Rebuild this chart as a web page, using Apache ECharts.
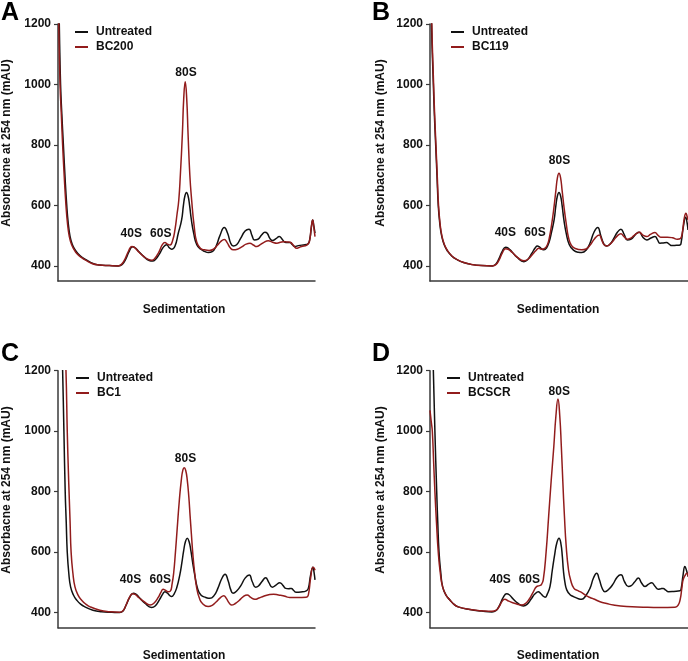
<!DOCTYPE html>
<html><head><meta charset="utf-8">
<script src="https://cdn.jsdelivr.net/npm/echarts/dist/echarts.min.js"></script>
<style>html,body{margin:0;padding:0;background:#fff;overflow:hidden}.p{position:absolute;width:344px;height:330px}</style>
</head><body>
<div id="A" class="p" style="left:0;top:0"></div>
<div id="B" class="p" style="left:344px;top:0"></div>
<div id="C" class="p" style="left:0;top:330px;height:331px"></div>
<div id="D" class="p" style="left:344px;top:330px;height:331px"></div>
<script>
const yTicks = [400, 600, 800, 1000, 1200];
const peakNames = ['40S', '60S', '80S'];
const yTitle = 'Absorbacne at 254 nm (mAU)';
const xTitle = 'Sedimentation';

// x = position along sedimentation (0..1000), y = absorbance (mAU)
const untreatedA = [[0,1450],[5,1200],[10,1000],[15,900],[21,800],[27,700],[34,600],[40,540],[47,497],[55,472],[65,455],[78,440],[95,427],[112,419],[136,408],[160,403],[200,401],[235,400],[250,405],[265,425],[278,450],[290,463],[300,460],[315,447],[335,430],[355,418],[368,416],[380,422],[395,440],[410,462],[423,470],[433,460],[442,455],[455,465],[468,508],[481,552],[488,600],[494,632],[500,643],[506,632],[512,600],[519,552],[528,508],[540,470],[556,455],[570,448],[585,444],[600,447],[615,465],[630,500],[647,527],[660,508],[672,475],[682,466],[695,470],[710,490],[728,515],[743,521],[755,500],[764,486],[778,488],[792,502],[805,511],[814,508],[825,490],[835,484],[848,490],[861,497],[873,487],[883,478],[893,477],[903,477],[912,470],[922,464],[935,467],[961,470],[972,472],[980,490],[987,535],[991,552],[995,535],[1000,508]];
const bc200 = [[0,1450],[3,1200],[8,1000],[13,900],[18,800],[24,700],[31,600],[37,540],[44,497],[52,472],[62,455],[74,440],[92,427],[108,419],[132,408],[160,403],[200,401],[232,400],[247,405],[262,425],[275,450],[287,464],[297,461],[312,448],[332,432],[352,421],[365,419],[377,425],[392,445],[406,470],[416,477],[426,472],[436,469],[446,484],[455,519],[463,570],[470,618],[476,700],[484,838],[489,950],[495,1009],[501,950],[506,838],[513,700],[520,618],[530,530],[540,478],[555,457],[570,453],[588,451],[605,455],[620,468],[635,482],[647,487],[658,477],[670,460],[682,453],[698,455],[715,463],[732,472],[747,475],[760,469],[773,464],[787,470],[800,477],[818,483],[835,478],[852,475],[865,478],[878,480],[890,479],[903,478],[916,468],[929,458],[938,461],[948,464],[968,469],[978,480],[985,525],[991,552],[995,530],[1000,497]];

const untreatedB = [[0,1600],[6,1200],[13,1000],[17,900],[22,800],[27,700],[32,600],[38,540],[45,500],[55,470],[67,450],[85,432],[106,420],[130,411],[158,405],[200,401],[242,400],[255,405],[268,425],[281,450],[293,462],[303,459],[318,446],[338,428],[364,414],[378,420],[395,442],[408,460],[416,466],[425,462],[435,455],[442,453],[452,460],[462,480],[470,508],[481,552],[488,600],[494,632],[500,643],[506,632],[512,600],[519,552],[528,508],[540,470],[556,452],[575,445],[588,444],[605,452],[620,475],[636,512],[650,527],[662,500],[674,472],[685,466],[698,472],[712,490],[727,512],[740,521],[752,505],[765,486],[778,488],[790,497],[800,507],[811,511],[825,495],[840,486],[856,492],[872,497],[882,486],[891,475],[904,476],[917,477],[927,472],[937,467],[955,468],[969,469],[974,480],[982,530],[991,561],[996,545],[1000,519]];
const bc119 = [[0,1600],[7,1200],[14,1000],[18,900],[23,800],[28,700],[33,600],[39,540],[46,500],[56,470],[68,450],[86,432],[107,420],[131,411],[159,405],[200,401],[242,400],[255,404],[268,420],[281,444],[293,457],[303,455],[318,445],[338,429],[364,417],[380,422],[397,438],[410,450],[422,458],[434,455],[445,458],[455,470],[463,495],[472,540],[480,590],[488,650],[494,692],[500,706],[506,692],[512,650],[520,590],[528,540],[537,493],[548,468],[562,458],[588,453],[605,456],[620,468],[638,490],[656,502],[666,485],[675,470],[685,466],[698,472],[712,485],[727,500],[740,506],[752,497],[765,488],[778,492],[790,500],[800,507],[811,511],[825,502],[840,497],[856,505],[872,510],[884,501],[894,495],[907,495],[920,495],[940,493],[959,488],[970,490],[978,510],[985,555],[992,574],[996,565],[1000,552]];

const untreatedC = [[0,1800],[18,1200],[23,1000],[28,800],[32,700],[36,600],[42,530],[49,485],[60,458],[73,441],[88,428],[105,419],[136,408],[170,403],[210,401],[240,400],[253,405],[265,425],[280,452],[293,464],[303,461],[318,448],[338,431],[364,417],[378,422],[395,443],[408,462],[416,469],[425,465],[435,456],[442,453],[452,462],[462,482],[474,525],[482,565],[489,605],[496,635],[503,646],[510,635],[517,605],[524,565],[532,525],[543,480],[556,458],[575,450],[591,447],[607,456],[622,480],[637,512],[650,527],[662,505],[672,476],[681,464],[696,472],[712,490],[728,514],[744,524],[756,502],[769,484],[780,488],[793,502],[808,515],[820,500],[834,484],[848,491],[863,499],[875,490],[886,480],[897,479],[908,480],[917,473],[927,467],[945,468],[966,472],[974,480],[983,525],[992,550],[996,535],[1000,508]];
const bc1 = [[0,2000],[31,1200],[36,1000],[41,850],[43,800],[47,700],[51,600],[58,530],[66,485],[78,458],[92,441],[108,428],[125,419],[163,408],[200,403],[240,401],[253,406],[265,425],[278,450],[290,462],[300,460],[315,449],[335,436],[358,425],[372,430],[390,450],[401,468],[409,477],[418,474],[428,469],[437,471],[444,495],[450,530],[457,600],[464,680],[472,770],[480,840],[486,872],[491,879],[497,870],[503,838],[509,783],[514,720],[519,660],[525,590],[532,530],[540,480],[550,448],[562,430],[584,420],[600,424],[615,435],[630,448],[645,456],[655,447],[665,433],[675,425],[690,430],[705,440],[720,452],[736,458],[750,450],[766,444],[782,448],[800,454],[820,459],[839,461],[858,458],[876,456],[890,452],[902,450],[930,450],[966,451],[974,458],[983,515],[992,550],[996,548],[1000,540]];

const untreatedD = [[0,1600],[13,1200],[19,1000],[26,800],[30,700],[35,600],[42,530],[49,485],[62,458],[78,441],[92,428],[109,419],[155,410],[200,405],[240,402],[255,406],[270,425],[285,452],[297,462],[307,459],[320,447],[340,431],[362,422],[376,427],[392,445],[407,462],[420,469],[428,464],[438,455],[446,451],[455,462],[465,486],[474,540],[484,596],[492,632],[500,646],[507,630],[513,585],[517,540],[523,500],[530,475],[542,460],[556,453],[575,446],[588,444],[603,455],[620,480],[634,515],[646,530],[656,510],[668,479],[678,469],[693,477],[710,495],[726,518],[740,525],[754,502],[769,486],[780,489],[792,500],[808,514],[820,498],[833,486],[846,493],[859,499],[872,487],[885,477],[895,479],[904,480],[914,474],[924,469],[945,470],[969,472],[974,482],[981,525],[988,552],[994,540],[1000,519]];
const bcscr = [[0,1069],[5,1030],[9,1000],[14,900],[19,800],[25,700],[32,600],[40,530],[49,485],[62,458],[78,441],[92,428],[109,419],[155,410],[200,406],[240,404],[255,407],[268,420],[280,438],[290,444],[305,438],[330,430],[355,425],[370,430],[385,445],[400,468],[413,486],[424,489],[432,493],[439,508],[450,600],[460,720],[470,840],[480,950],[488,1050],[496,1106],[503,1050],[509,950],[515,830],[521,720],[528,618],[537,540],[545,508],[558,480],[575,472],[590,465],[607,455],[620,450],[635,445],[659,436],[685,430],[711,425],[762,420],[826,418],[891,417],[950,418],[962,425],[970,445],[976,480],[981,508],[990,525],[995,530],[1000,520]];

// annotation anchor points (data coordinates) for 40S / 60S / 80S
const labelsA = [[285,506],[400,506],[498,1039]];
const labelsB = [[292,509],[407,509],[502,748]];
const labelsC = [[282,508],[398,508],[496,910]];
const labelsD = [[272,508],[385,508],[501,1130]];

const FONT = '"Liberation Sans", Arial, sans-serif';
const AX = '#3a3a3a';
const RED = '#921c1c';

function panel(id, o) {
  const chart = echarts.init(document.getElementById(id));
  chart.setOption({
    animation: false,
    textStyle: { fontFamily: FONT },
    grid: { left: o.gl, top: o.gt, width: o.gw, height: 257 },
    xAxis: { type: 'value', min: 0, max: 1000,
      axisLine: { show: true, lineStyle: { color: AX, width: 1.5 } },
      axisTick: { show: false }, axisLabel: { show: false }, splitLine: { show: false } },
    yAxis: { type: 'value', min: 350, max: 1200,
      axisLine: { show: true, lineStyle: { color: AX, width: 1.5 } },
      axisTick: { show: true, length: 4, customValues: yTicks, lineStyle: { color: AX, width: 1.2 } },
      axisLabel: { customValues: yTicks, formatter: v => String(v), fontWeight: 'bold', fontSize: 12, color: '#111', margin: 7, fontFamily: FONT },
      splitLine: { show: false } },
    legend: { orient: 'vertical', left: o.ll, top: o.lt, padding: 0, itemGap: 1,
      icon: 'rect', itemWidth: 13, itemHeight: 2,
      data: o.names,
      textStyle: { fontWeight: 'bold', fontSize: 12, color: '#111', lineHeight: 14, padding: [0, 0, 0, 3], fontFamily: FONT } },
    graphic: [
      { type: 'text', x: o.letterX, y: o.letterY, style: { text: o.letter, font: 'bold 25px ' + FONT, fill: '#000', textVerticalAlign: 'middle' } },
      { type: 'text', x: o.yx, y: o.yy, rotation: Math.PI / 2, style: { text: yTitle, font: 'bold 12px ' + FONT, fill: '#111', textAlign: 'center', textVerticalAlign: 'middle' } },
      { type: 'text', x: o.xx, y: o.xy, style: { text: xTitle, font: 'bold 12px ' + FONT, fill: '#111', textAlign: 'center', textVerticalAlign: 'middle' } }
    ],
    series: [
      { name: o.names[0], type: 'line', data: o.black, symbol: 'none', smooth: 0.5,
        lineStyle: { color: '#111', width: 1.5 }, itemStyle: { color: '#111' }, z: 2 },
      { name: o.names[1], type: 'line', data: o.red, symbol: 'none', smooth: 0.5,
        lineStyle: { color: RED, width: 1.5 }, itemStyle: { color: RED }, z: 3 },
      { type: 'scatter', symbolSize: 0, silent: true, z: 5, itemStyle: { opacity: 1 },
        data: o.labels.map((p, i) => ({ value: p, name: peakNames[i] })),
        label: { show: true, position: 'inside', formatter: '{b}', fontWeight: 'bold', fontSize: 12, color: '#111', opacity: 1, fontFamily: FONT } }
    ]
  });
}

panel('A', { gl: 58, gt: 24, gw: 257, ll: 75, lt: 25, names: ['Untreated', 'BC200'], black: untreatedA, red: bc200, labels: labelsA,
  letter: 'A', letterX: 1, letterY: 13, yx: 7, yy: 143, xx: 184, xy: 310 });
panel('B', { gl: 86, gt: 24, gw: 258, ll: 107, lt: 25, names: ['Untreated', 'BC119'], black: untreatedB, red: bc119, labels: labelsB,
  letter: 'B', letterX: 28, letterY: 13, yx: 37, yy: 143, xx: 214, xy: 310 });
panel('C', { gl: 58, gt: 40.7, gw: 257, ll: 76, lt: 41, names: ['Untreated', 'BC1'], black: untreatedC, red: bc1, labels: labelsC,
  letter: 'C', letterX: 1, letterY: 24, yx: 7, yy: 160, xx: 184, xy: 326 });
panel('D', { gl: 86, gt: 40.7, gw: 258, ll: 103, lt: 41, names: ['Untreated', 'BCSCR'], black: untreatedD, red: bcscr, labels: labelsD,
  letter: 'D', letterX: 28, letterY: 24, yx: 37, yy: 160, xx: 214, xy: 326 });
</script>
</body></html>
